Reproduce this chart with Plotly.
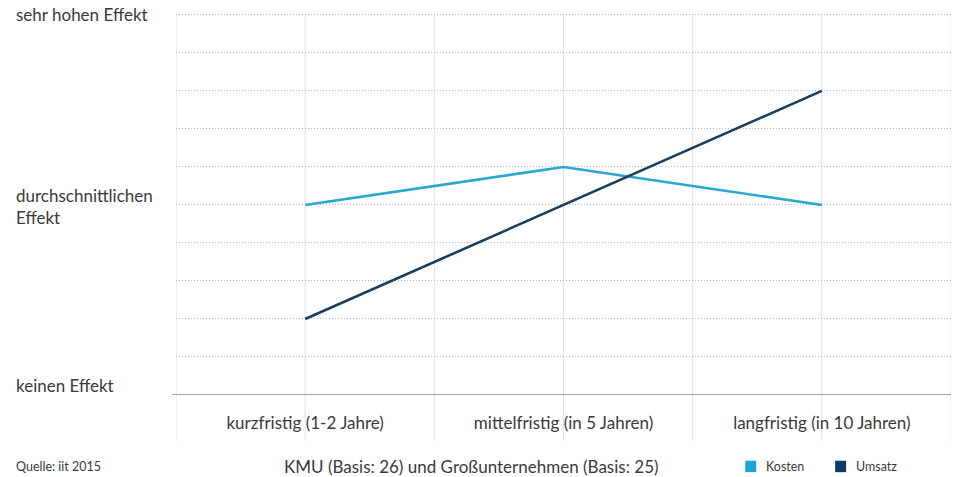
import plotly.graph_objects as go

# Zeiträume (Kategorien) und Bewertungen auf einer Skala 0 (keinen Effekt) bis 10 (sehr hohen Effekt)
zeitraeume = ["kurzfristig (1-2 Jahre)", "mittelfristig (in 5 Jahren)", "langfristig (in 10 Jahren)"]
kosten = [5, 6, 5]
umsatz = [2, 5, 8]

skala_werte = [10, 5, 0]
skala_texte = ["sehr hohen Effekt", "durchschnittlichen<br>Effekt", "keinen Effekt"]

serien = ["Kosten", "Umsatz"]
FARBE_KOSTEN = "#2aa8cc"
FARBE_UMSATZ = "#1b3d5e"
LEGENDE_FARBEN = ["#1aa6d6", "#0d3d66"]
TEXT = "#3a3a3a"
FONT = "Lato"

Y_MAX = 10.05
# Kategorien liegen auf den ungeraden Positionen einer 0..6-Achse
pos = [2 * i + 1 for i in range(len(zeitraeume))]

fig = go.Figure()
fig.add_trace(go.Scatter(x=pos, y=kosten, mode="lines", name=serien[0],
                         line=dict(color=FARBE_KOSTEN, width=2.6), showlegend=False))
fig.add_trace(go.Scatter(x=pos, y=umsatz, mode="lines", name=serien[1],
                         line=dict(color=FARBE_UMSATZ, width=2.6), showlegend=False))

# senkrechte Rasterlinien, die bis unter die Achsenbeschriftung reichen
shapes = []
for gx in range(7):
    shapes.append(dict(type="line", xref="x", yref="paper", x0=gx, x1=gx,
                       y0=-0.12, y1=10 / Y_MAX,
                       line=dict(color="#e2e2e2", width=1), layer="below"))
# Grundlinie
shapes.append(dict(type="line", xref="paper", yref="y", x0=-0.005, x1=1, y0=0, y1=0,
                   line=dict(color="#8a8a8a", width=1.5)))

annotations = []
for wert, txt in zip(skala_werte, skala_texte):
    shift = 10 if wert == 0 else (0 if wert == 10 else -2)
    annotations.append(dict(x=0, xref="paper", xshift=-162, xanchor="left", y=wert, yref="y",
                            yshift=shift, text=txt, showarrow=False, align="left",
                            font=dict(family=FONT, size=17, color=TEXT)))
annotations.append(dict(x=0, xref="paper", xshift=-162, xanchor="left", y=-0.187, yref="paper",
                        yanchor="middle", text="Quelle: iit 2015", showarrow=False,
                        font=dict(family=FONT, size=12.5, color=TEXT)))
annotations.append(dict(x=0.381, xref="paper", xanchor="center", y=-0.187, yref="paper",
                        yanchor="middle", text="KMU (Basis: 26) und Großunternehmen (Basis: 25)",
                        showarrow=False, font=dict(family=FONT, size=17, color=TEXT)))

# Legende: farbige Quadrate mit Beschriftung
leg_x = [0.7345, 0.8505]
for lx, name, farbe in zip(leg_x, serien, LEGENDE_FARBEN):
    shapes.append(dict(type="rect", xref="paper", yref="paper",
                       x0=lx, x1=lx + 0.0142, y0=-0.202, y1=-0.172,
                       fillcolor=farbe, line=dict(width=0)))
    annotations.append(dict(x=lx + 0.0245, xref="paper", xanchor="left", y=-0.187, yref="paper",
                            yanchor="middle", text=name, showarrow=False,
                            font=dict(family=FONT, size=12.5, color=TEXT)))

fig.update_layout(
    width=961, height=477,
    margin=dict(l=176, r=10, t=13, b=82, autoexpand=False),
    paper_bgcolor="white", plot_bgcolor="white",
    font=dict(family=FONT, color=TEXT),
    showlegend=False,
    xaxis=dict(range=[0, 6], tickmode="array", tickvals=pos, ticktext=zeitraeume,
               showgrid=False, zeroline=False, showline=False, ticks="",
               ticklabelstandoff=16,
               tickfont=dict(family=FONT, size=17, color=TEXT)),
    yaxis=dict(range=[0, Y_MAX], tickmode="array", tickvals=list(range(1, 11)),
               showgrid=True, gridcolor="#b8b8b8", griddash="1px,2px",
               gridwidth=1, zeroline=False, showticklabels=False, showline=False),
    shapes=shapes,
    annotations=annotations,
)

fig.write_html("out.html")
